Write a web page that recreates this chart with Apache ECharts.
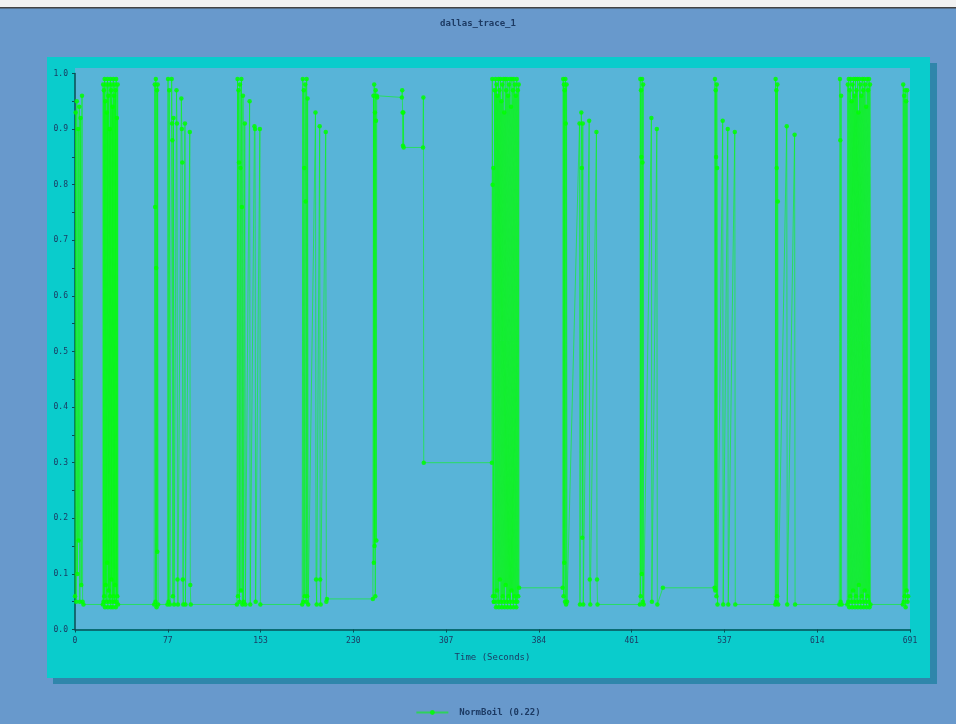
<!DOCTYPE html>
<html>
<head>
<meta charset="utf-8">
<script src="https://cdn.jsdelivr.net/npm/echarts@6/dist/echarts.min.js"></script>
<style>
html,body{margin:0;padding:0;background:#6899cc;}
#chart{width:956px;height:724px;}
</style>
</head>
<body>
<div id="chart"></div>
<script>
// ---- Data (time in seconds, NormBoil value) ----
const titleText = 'dallas_trace_1';
const seriesName = 'NormBoil (0.22)';
const xAxisName = 'Time (Seconds)';
const xTickLabels = ['0','77','153','230','307','384','461','537','614','691'];
const yTickLabels = ['0.0','0.1','0.2','0.3','0.4','0.5','0.6','0.7','0.8','0.9','1.0'];

const startBurst = [[0,0.06],[0.5,0.93],[1,0.05],[1.5,0.95],[2,0.1],[2.6,0.9],[3,0.16],[3.5,0.94],[4,0.05],[4.6,0.92],[5.2,0.08],[5.8,0.96],[6.3,0.05],[7,0.045]];
const burstA = [[23,0.045],[23.3,0.98],[23.6,0.05],[23.9,0.97],[24.2,0.06],[24.5,0.99],[24.8,0.04],[25.1,0.95],[25.4,0.08],[25.7,0.98],[26,0.05],[26.3,0.93],[26.6,0.12],[26.9,0.99],[27.2,0.04],[27.5,0.96],[27.8,0.07],[28.1,0.98],[28.4,0.05],[28.7,0.9],[29,0.06],[29.3,0.99],[29.6,0.04],[29.9,0.97],[30.2,0.09],[30.5,0.98],[30.8,0.05],[31.1,0.94],[31.4,0.04],[31.7,0.99],[32,0.06],[32.3,0.96],[32.6,0.05],[32.9,0.98],[33.2,0.08],[33.5,0.97],[33.8,0.04],[34.1,0.99],[34.4,0.05],[34.7,0.92],[35,0.06],[35.3,0.98],[35.6,0.045]];
const burstB = [[65.5,0.045],[66,0.98],[66.3,0.76],[66.6,0.05],[66.9,0.99],[67.2,0.65],[67.5,0.04],[67.8,0.97],[68.1,0.14],[68.4,0.98],[68.8,0.045]];
const groupC = [[76.5,0.045],[77,0.99],[77.4,0.05],[78,0.97],[78.5,0.045],[80,0.99],[80.3,0.91],[80.6,0.88],[81,0.06],[81.5,0.92],[82,0.045],[84,0.97],[84.4,0.91],[84.8,0.09],[85.2,0.045],[88,0.955],[88.4,0.9],[88.8,0.84],[89.2,0.09],[89.6,0.045],[91,0.91],[91.4,0.045],[95,0.895],[95.4,0.08],[95.8,0.045]];
const groupD = [[134,0.045],[134.5,0.99],[134.9,0.06],[135.3,0.97],[135.7,0.84],[136.1,0.05],[136.5,0.98],[136.9,0.83],[137.3,0.07],[137.7,0.99],[138.1,0.76],[138.5,0.045],[139,0.96],[139.5,0.05],[140.5,0.91],[141,0.045],[144.5,0.95],[145,0.045],[148.5,0.905],[149,0.9],[149.5,0.05],[153,0.9],[153.4,0.045]];
const groupE = [[188,0.045],[188.5,0.99],[188.9,0.05],[189.3,0.97],[189.7,0.83],[190.1,0.06],[190.5,0.98],[190.9,0.77],[191.3,0.05],[191.7,0.99],[192.1,0.06],[192.5,0.955],[193,0.045],[199,0.93],[199.5,0.09],[200,0.045],[202.5,0.905],[202.9,0.09],[203.3,0.045],[207.5,0.895],[208,0.05],[208.5,0.055]];
const groupF = [[246.5,0.055],[247,0.96],[247.3,0.12],[247.6,0.98],[247.9,0.15],[248.2,0.93],[248.5,0.06],[248.8,0.97],[249.1,0.915],[249.4,0.16],[249.7,0.96],[250,0.957],[270.5,0.957],[270.8,0.97],[271.1,0.93],[271.4,0.87],[271.7,0.93],[272,0.867],[288,0.867],[288.3,0.957],[288.6,0.3],[345,0.3]];
const burstG = [[345.3,0.99],[345.6,0.8],[345.9,0.06],[346.2,0.83],[346.5,0.05],[346.8,0.05],[347.2,0.97],[347.6,0.06],[348,0.99],[348.4,0.04],[348.8,0.98],[349.2,0.07],[349.6,0.96],[350,0.05],[350.4,0.99],[350.8,0.04],[351.2,0.97],[351.6,0.09],[352,0.99],[352.4,0.05],[352.8,0.95],[353.2,0.04],[353.6,0.98],[354,0.06],[354.4,0.99],[354.8,0.05],[355.2,0.93],[355.6,0.04],[356,0.99],[356.4,0.08],[356.8,0.97],[357.2,0.05],[357.6,0.99],[358,0.04],[358.4,0.96],[358.8,0.06],[359.2,0.98],[359.6,0.05],[360,0.99],[360.4,0.04],[360.8,0.94],[361.2,0.07],[361.6,0.99],[362,0.05],[362.4,0.97],[362.8,0.04],[363.2,0.99],[363.6,0.06],[364,0.98],[364.4,0.05],[364.8,0.96],[365.2,0.04],[365.6,0.99],[366,0.05],[366.4,0.97],[366.8,0.06],[367.2,0.98],[367.5,0.075]];
const groupH = [[403.5,0.075],[404,0.99],[404.3,0.06],[404.6,0.98],[404.9,0.12],[405.2,0.97],[405.5,0.05],[405.8,0.99],[406.1,0.91],[406.4,0.045],[406.8,0.98],[407.2,0.05],[417.5,0.91],[417.9,0.045],[419,0.93],[419.4,0.83],[419.8,0.165],[420.2,0.91],[420.6,0.045],[425.5,0.915],[426,0.09],[426.4,0.045],[431.5,0.895],[432,0.09],[432.4,0.045]];
const groupI = [[467.5,0.045],[467.8,0.99],[468.1,0.06],[468.4,0.97],[468.7,0.85],[469,0.1],[469.3,0.99],[469.6,0.84],[469.9,0.05],[470.2,0.98],[470.6,0.045],[477,0.92],[477.4,0.05],[481.5,0.9],[481.9,0.045],[486.5,0.075],[529.3,0.075]];
const groupJ = [[529.6,0.99],[529.9,0.07],[530.2,0.97],[530.5,0.85],[530.8,0.06],[531.1,0.98],[531.4,0.83],[531.7,0.045],[536,0.915],[536.4,0.045],[540.2,0.9],[540.6,0.045],[546,0.895],[546.4,0.045]];
const groupK = [[579.5,0.045],[579.8,0.99],[580.1,0.05],[580.4,0.97],[580.7,0.83],[581,0.06],[581.3,0.98],[581.6,0.77],[581.9,0.045],[589,0.905],[589.4,0.045],[595.5,0.89],[595.9,0.045]];
const burstL = [[632.5,0.045],[633,0.99],[633.3,0.88],[633.6,0.05],[634,0.96],[634.4,0.045],[639.1,0.045],[639.5,0.98],[639.9,0.05],[640.3,0.99],[640.7,0.04],[641.1,0.97],[641.5,0.06],[641.9,0.99],[642.3,0.05],[642.7,0.95],[643.1,0.04],[643.5,0.98],[643.9,0.07],[644.3,0.99],[644.7,0.05],[645.1,0.96],[645.5,0.04],[645.9,0.99],[646.3,0.06],[646.7,0.97],[647.1,0.05],[647.5,0.99],[647.9,0.04],[648.3,0.93],[648.7,0.08],[649.1,0.99],[649.5,0.05],[649.9,0.98],[650.3,0.04],[650.7,0.96],[651.1,0.06],[651.5,0.99],[651.9,0.05],[652.3,0.97],[652.7,0.04],[653.1,0.99],[653.5,0.07],[653.9,0.98],[654.3,0.05],[654.7,0.94],[655.1,0.04],[655.5,0.99],[655.9,0.06],[656.3,0.97],[656.7,0.05],[657.1,0.99],[657.5,0.04],[657.9,0.98],[658.3,0.045]];
const endBurst = [[685,0.045],[685.4,0.98],[685.8,0.05],[686.2,0.96],[686.6,0.06],[687,0.97],[687.4,0.04],[687.8,0.95],[688.2,0.07],[688.6,0.97],[689,0.05],[689.5,0.06]];

const xMax = 691;
const traceData = [].concat(startBurst, burstA, burstB, groupC, groupD, groupE, groupF, burstG, groupH, groupI, groupJ, groupK, burstL, endBurst);

// ---- Chart ----
const chart = echarts.init(document.getElementById('chart'), null, {renderer: 'canvas'});
const FONT = 'DejaVu Sans Mono';
const TXT = '#1c3a63';
const xInterval = xMax / 9;

const option = {
  backgroundColor: '#6899cc',
  animation: false,
  title: {
    text: titleText, left: 'center', top: 14,
    textStyle: {fontFamily: FONT, fontSize: 9, fontWeight: 'bold', color: TXT}
  },
  graphic: [
    {type: 'rect', z: 0, shape: {x: 0, y: 0, width: 956, height: 7}, style: {fill: '#f2f2f2'}},
    {type: 'rect', z: 0, shape: {x: 0, y: 7, width: 956, height: 1.5}, style: {fill: '#444444'}},
    {type: 'rect', z: 0, shape: {x: 53, y: 63, width: 884, height: 621}, style: {fill: '#2f86ab'}},
    {type: 'rect', z: 0, shape: {x: 47, y: 57, width: 883, height: 621}, style: {fill: '#0acccc'}},
    {type: 'rect', z: 0, shape: {x: 75, y: 68, width: 835, height: 561}, style: {fill: '#58b4d8'}}
  ],
  grid: {left: 75, right: 46, top: 73.5, bottom: 94.5, containLabel: false},
  legend: {
    data: [seriesName], bottom: 2, left: 'center',
    itemWidth: 32, itemHeight: 6, itemGap: 10,
    textStyle: {fontFamily: FONT, fontSize: 9, fontWeight: 'bold', color: TXT, padding: [0, 0, 0, 6]}
  },
  xAxis: {
    type: 'value', min: 0, max: xMax, interval: xInterval,
    name: xAxisName, nameLocation: 'middle', nameGap: 24,
    nameTextStyle: {fontFamily: FONT, fontSize: 9, color: TXT},
    axisLine: {lineStyle: {color: '#0b4d55', width: 1.5}},
    axisTick: {show: true, length: 3, lineStyle: {color: '#0b4d55'}},
    axisLabel: {
      fontFamily: FONT, fontSize: 8, color: TXT, margin: 7,
      formatter: function (v) { return xTickLabels[Math.round(v / xInterval)] || ''; }
    },
    splitLine: {show: false}
  },
  yAxis: {
    type: 'value', min: 0, max: 1, interval: 0.1,
    axisLine: {show: true, lineStyle: {color: '#0b4d55', width: 1.5}},
    axisTick: {show: true, length: 3, lineStyle: {color: '#0b4d55'}},
    minorTick: {show: true, splitNumber: 2, length: 3, lineStyle: {color: '#0b4d55'}},
    axisLabel: {
      fontFamily: FONT, fontSize: 8, color: TXT, margin: 7,
      formatter: function (v) { return yTickLabels[Math.round(v * 10)] || ''; }
    },
    splitLine: {show: false}
  },
  series: [{
    name: seriesName, type: 'line', data: traceData,
    z: 5,
    showSymbol: true, showAllSymbol: true,
    symbol: 'circle', symbolSize: 4.5,
    itemStyle: {color: '#00ff00', opacity: 0.85},
    lineStyle: {color: '#00ff00', width: 1, opacity: 0.55},
    emphasis: {disabled: true}
  }]
};
chart.setOption(option);
</script>
</body>
</html>
